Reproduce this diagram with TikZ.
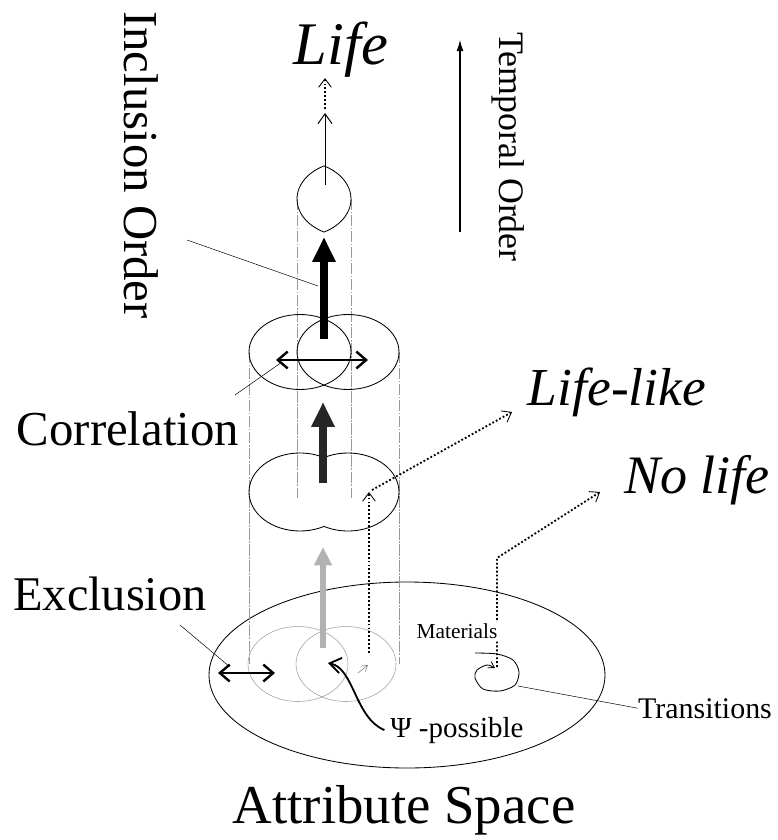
\documentclass[tikz,border=0pt]{standalone}
\usepackage{fontspec}
\setmainfont{Liberation Serif}
\usepackage{tikz}
\usetikzlibrary{arrows.meta, positioning, calc}

\newcommand{\txtsize}[1]{\fontsize{#1}{#1}\selectfont}

\tikzset{
  lbl/.style={inner sep=0pt, anchor=base},
  ring/.style={line width=0.6pt},
  basering/.style={gray!75, line width=0.4pt},
  guide/.style={gray!80, line width=0.3pt, dash pattern=on 8pt off 1.2pt on 1pt off 1.2pt},
  leader/.style={line width=0.35pt},
  bigarrow/.style={line width=5pt, -{Triangle[length=17.7pt,width=15.6pt]}},
  grayarrow/.style={gray!60, line width=3.6pt, -{Triangle[length=13pt,width=12pt]}},
  dblarrow/.style={line width=1.7pt, {Straight Barb[length=7pt,width=12pt]}-{Straight Barb[length=7pt,width=12pt]}},
  dotpath/.style={line width=1.3pt, dash pattern=on 1.3pt off 1.5pt,
    -{Straight Barb[length=6pt,width=9pt,line width=0.6pt]}},
  thinarrow/.style={line width=0.7pt, -{Straight Barb[length=7pt,width=10pt]}},
}

\begin{document}
\begin{tikzpicture}[x=0.025cm, y=-0.025cm]
\useasboundingbox (0,0) rectangle (777,840);

% labels
\node[lbl, font=\txtsize{43pt}\itshape] (life) at (341,65) {Life};
\node[lbl, font=\txtsize{38pt}\itshape] (lifelike) at (617,405) {Life-like};
\node[lbl, font=\txtsize{38.5pt}\itshape] (nolife) at (697,493) {No life};
\node[inner sep=0pt, rotate=-90, font=\txtsize{34.7pt}] (incl) at (141,165) {Inclusion Order};
\node[inner sep=0pt, rotate=-90, font=\txtsize{25.5pt}] (temporal) at (508,147) {Temporal Order};
\node[lbl, font=\txtsize{34.7pt}] (corr) at (128,445) {Correlation};
\node[lbl, font=\txtsize{34.4pt}] (excl) at (110,610) {Exclusion};
\node[lbl, font=\txtsize{39pt}] (attr) at (404,823) {Attribute Space};
\node[lbl, font=\txtsize{21.3pt}] (trans) at (705,718) {Transitions};
\node[lbl, anchor=base west, font=\txtsize{20.6pt}] (psi) at (390,737) {Ψ -possible};

% attribute space plane
\draw[ring] (407,675) ellipse [x radius=198, y radius=93];
\draw[basering] (298,664) ellipse [x radius=50, y radius=37.5];
\draw[basering] (346,664) ellipse [x radius=50, y radius=37.5];

% column guides
\foreach \gx in {297,351} \draw[guide] (\gx,199) -- (\gx,498);
\foreach \gx in {249,399} \draw[guide] (\gx,352) -- (\gx,664);

% correlated layer
\draw[ring] (300,352) ellipse [x radius=51, y radius=37.5];
\draw[ring] (348,352) ellipse [x radius=51, y radius=37.5];

% union layer
\draw[ring] (300,492) ++(61.93:51 and 39)
  arc[start angle=61.93, end angle=298.07, x radius=51, y radius=39]
  arc[start angle=-118.07, end angle=118.07, x radius=51, y radius=39] -- cycle;

% intersection layer
\draw[ring] (300,199) ++(-61.93:51 and 37.5)
  arc[start angle=-61.93, end angle=61.93, x radius=51, y radius=37.5]
  arc[start angle=118.07, end angle=241.93, x radius=51, y radius=37.5] -- cycle;

% arrows up the column
\coordinate (gA) at (323,648);
\coordinate (gB) at (323,547);
\draw[grayarrow] (gA) -- (gB);
\coordinate (mA) at (323,483);
\coordinate (mB) at (323,402);
\draw[bigarrow, black!85] (mA) -- (mB);
\coordinate (tA) at (324,339);
\coordinate (tB) at (324,237);
\draw[bigarrow] (tA) -- (tB);
\coordinate (lA) at (325,185);
\coordinate (lB) at (325,113);
\coordinate (lC) at (325,109);
\draw[thinarrow] (lA) -- (lB);
\draw[dotpath] (lC) -- (lC |- life.south);

% exclusion / correlation
\coordinate (cL) at (276,360);
\coordinate (cR) at (368,360);
\draw[dblarrow] (cL) -- (cR);
\coordinate (eL) at (218,673);
\coordinate (eR) at (275,673);
\draw[dblarrow] (eL) -- (eR);

% leaders
\coordinate (inclA) at (187,240);
\coordinate (inclB) at (318,286);
\draw[leader] (inclA) -- (inclB);
\coordinate (corrA) at (235,395);
\coordinate (corrB) at (282,362);
\draw[leader] (corrA) -- (corrB);
\coordinate (exclA) at (180,625);
\coordinate (exclB) at (230,667);
\draw[leader] (exclA) -- (exclB);

% to life-like
\coordinate (llA) at (369,653);
\coordinate (llB) at (369,492);
\coordinate (llC) at (372,490);
\coordinate (llD) at (512,412);
\draw[dotpath] (llA) -- (llB);
\draw[dotpath] (llC) -- (llD);

% transitions and materials
\coordinate (spC) at (497,667);
\coordinate (nlB) at (497,558);
\coordinate (nlC) at (600,492);
\draw[dotpath] (spC) -- (nlB) -- (nlC);
\draw[line width=0.6pt, -{Straight Barb[length=4pt,width=5pt]}] plot[smooth] coordinates
  {(475,653) (497,654) (513,660) (519,672) (515,685) (500,691) (483,689) (475,678) (477,670) (487,665) (495,668)};
\coordinate (trA) at (518,686);
\draw[leader] (trA) -- (trans.west);
\node[lbl, fill=white, inner sep=1pt, font=\txtsize{15.2pt}] (materials) at (457,638) {Materials};

% psi-possible
\coordinate (psTip) at (328,663);
\draw[line width=1.3pt, -{Straight Barb[length=8pt,width=11pt]}]
  ([xshift=-4pt]psi.west) .. controls (355,718) and (354,668) .. (psTip);
\coordinate (smA) at (358,673);
\coordinate (smB) at (368,665);
\draw[gray, line width=0.4pt, -{Straight Barb[length=4pt,width=5pt]}] (smA) -- (smB);

% temporal order
\coordinate (tmA) at (460,232);
\coordinate (tmB) at (460,40);
\draw[line width=0.8pt, -{Latex[length=8pt,width=5pt]}] (tmA) -- (tmB);
\end{tikzpicture}
\end{document}
